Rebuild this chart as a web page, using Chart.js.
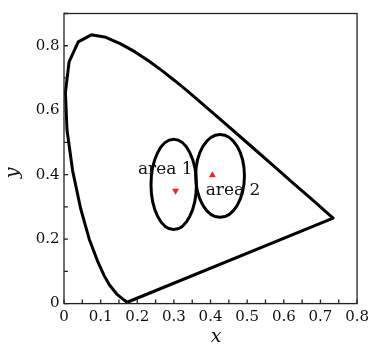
<!DOCTYPE html>
<html>
<head>
<meta charset="utf-8">
<script src="https://cdn.jsdelivr.net/npm/chart.js@4"></script>
<style>
  html, body { margin: 0; padding: 0; background: #fff; }
  #wrap { width: 374px; height: 346px; }
</style>
</head>
<body>
<div id="wrap"><canvas id="cie" width="374" height="346"></canvas></div>
<script>
// spectral locus (CIE 1931)
var locusX = [0.1741, 0.1714, 0.1644, 0.1566, 0.1440, 0.1241, 0.1096, 0.0913, 0.0687, 0.0454,
              0.0235, 0.0082, 0.0039, 0.0139, 0.0389, 0.0743, 0.1142, 0.1547, 0.1929, 0.2296,
              0.2658, 0.3016, 0.3373, 0.3731, 0.4441, 0.5125, 0.5752, 0.6270, 0.6658, 0.6915,
              0.7190, 0.7347, 0.1741];
var locusY = [0.0050, 0.0051, 0.0109, 0.0177, 0.0297, 0.0578, 0.0868, 0.1327, 0.2007, 0.2950,
              0.4127, 0.5384, 0.6548, 0.7502, 0.8120, 0.8338, 0.8262, 0.8059, 0.7816, 0.7543,
              0.7243, 0.6923, 0.6589, 0.6245, 0.5547, 0.4866, 0.4242, 0.3725, 0.3340, 0.3083,
              0.2809, 0.2653, 0.0050];

// the two areas: ellipse centre and half axes, in x / y units
var areaNames = ['area 1', 'area 2'];
var areaCx = [0.2995, 0.4260];
var areaCy = [0.3695, 0.3963];
var areaRx = [0.062, 0.0665];
var areaRy = [0.140, 0.1285];
var areaLabelX = [0.2017, 0.3866];
var areaLabelY = [0.417, 0.350];

// red markers inside the areas
var markX = [0.3045, 0.405];
var markY = [0.350, 0.398];
var markRot = [180, 0];

var serif = "'DejaVu Serif', 'Liberation Serif', serif";

function xy(xs, ys) {
    var out = [];
    for (var i = 0; i < xs.length; i++) out.push({x: xs[i], y: ys[i]});
    return out;
}

function tickLabel(v, every) {
    var n = Math.round(v * 100);
    if (n % every !== 0) return '';
    return n === 0 ? '0' : (n / 100).toFixed(1);
}

var extras = {
    id: 'extras',
    afterDatasetsDraw: function (chart) {
        var ctx = chart.ctx, sx = chart.scales.x, sy = chart.scales.y;
        ctx.save();
        // ellipses
        ctx.strokeStyle = '#000';
        ctx.lineWidth = 3;
        for (var i = 0; i < areaCx.length; i++) {
            var cx = sx.getPixelForValue(areaCx[i]);
            var cy = sy.getPixelForValue(areaCy[i]);
            var rx = sx.getPixelForValue(areaCx[i] + areaRx[i]) - cx;
            var ry = cy - sy.getPixelForValue(areaCy[i] + areaRy[i]);
            ctx.beginPath();
            ctx.ellipse(cx, cy, rx, ry, 0, 0, Math.PI * 2);
            ctx.stroke();
        }
        // area labels
        ctx.fillStyle = '#111';
        ctx.font = '17px ' + serif;
        ctx.textAlign = 'left';
        ctx.textBaseline = 'middle';
        for (var j = 0; j < areaNames.length; j++) {
            ctx.fillText(areaNames[j], sx.getPixelForValue(areaLabelX[j]), sy.getPixelForValue(areaLabelY[j]));
        }
        ctx.restore();
    },
    afterDraw: function (chart) {
        var ctx = chart.ctx, a = chart.chartArea, sx = chart.scales.x, sy = chart.scales.y;
        ctx.save();
        ctx.strokeStyle = '#222';
        ctx.lineWidth = 1.3;
        ctx.strokeRect(a.left, a.top, a.right - a.left, a.bottom - a.top);
        // inward ticks
        ctx.beginPath();
        sx.ticks.forEach(function (t) {
            var p = sx.getPixelForValue(t.value);
            ctx.moveTo(p, a.bottom);
            ctx.lineTo(p, a.bottom - 4);
        });
        sy.ticks.forEach(function (t) {
            var p = sy.getPixelForValue(t.value);
            ctx.moveTo(a.left, p);
            ctx.lineTo(a.left + 4, p);
        });
        ctx.stroke();
        // axis titles
        ctx.fillStyle = '#111';
        ctx.font = 'italic 19px ' + serif;
        ctx.textAlign = 'center';
        ctx.textBaseline = 'middle';
        ctx.fillText('x', 216, 337.5);
        ctx.translate(13, 173);
        ctx.rotate(-Math.PI / 2);
        ctx.fillText('y', 0, 0);
        ctx.restore();
    }
};

new Chart(document.getElementById('cie').getContext('2d'), {
    type: 'scatter',
    data: {
        datasets: [{
            label: 'locus',
            data: xy(locusX, locusY),
            showLine: true,
            borderColor: '#000',
            borderWidth: 3,
            borderJoinStyle: 'round',
            pointRadius: 0,
            tension: 0,
            fill: false
        }, {
            label: 'centres',
            data: xy(markX, markY),
            pointStyle: 'triangle',
            rotation: markRot,
            pointRadius: 4,
            backgroundColor: 'rgb(250, 30, 30)',
            borderColor: 'rgb(250, 30, 30)',
            borderWidth: 0
        }]
    },
    options: {
        responsive: false,
        animation: false,
        devicePixelRatio: 1,
        layout: {
            padding: {top: 11, right: 11.3, left: 0, bottom: 0}
        },
        plugins: {
            legend: {display: false},
            tooltip: {enabled: false}
        },
        scales: {
            x: {
                type: 'linear',
                min: 0,
                max: 0.8,
                border: {display: false},
                grid: {display: false, drawTicks: false},
                ticks: {
                    stepSize: 0.05,
                    autoSkip: false,
                    maxRotation: 0,
                    padding: 5,
                    color: '#111',
                    font: {family: serif, size: 15},
                    callback: function (v) { return tickLabel(v, 10); }
                },
                afterFit: function (s) { s.height = 42.4; }
            },
            y: {
                type: 'linear',
                min: 0,
                max: 0.9,
                border: {display: false},
                grid: {display: false, drawTicks: false},
                ticks: {
                    stepSize: 0.1,
                    autoSkip: false,
                    padding: 4.5,
                    color: '#111',
                    font: {family: serif, size: 15},
                    callback: function (v) { return tickLabel(v, 20); }
                },
                afterFit: function (s) { s.width = 64; }
            }
        }
    },
    plugins: [extras]
});
</script>
</body>
</html>
